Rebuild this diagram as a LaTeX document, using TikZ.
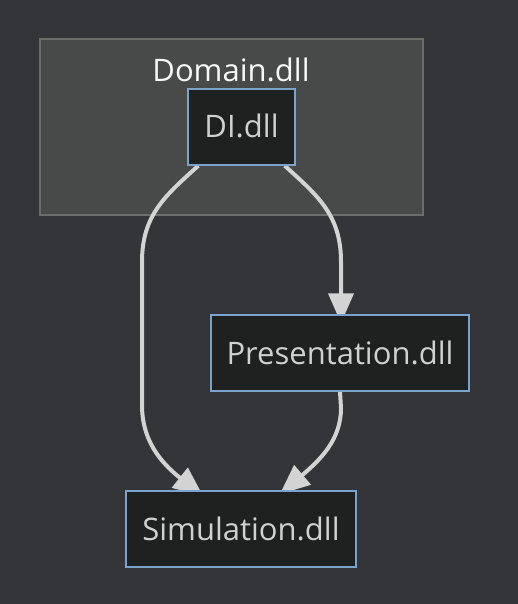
\documentclass[tikz,border=0pt]{standalone}
\usepackage{fontspec}
\setmainfont{Open Sans}
\usetikzlibrary{arrows.meta,calc}
\definecolor{bgc}{RGB}{52,53,56}
\definecolor{clfill}{RGB}{72,74,73}
\definecolor{cldraw}{RGB}{108,110,108}
\definecolor{nfill}{RGB}{31,32,32}
\definecolor{ndraw}{RGB}{122,163,206}
\definecolor{ntext}{RGB}{208,208,208}
\definecolor{ttext}{RGB}{248,248,248}
\definecolor{edgec}{RGB}{211,211,211}
\pgfdeclarelayer{bglayer}
\pgfdeclarelayer{edgelayer}
\pgfsetlayers{bglayer,edgelayer,main}
\tikzset{
  x=1pt,y=1pt,
  labfont/.style={font=\fontsize{31}{34}\selectfont},
  modbox/.style={draw=ndraw,fill=nfill,line width=1.5pt,inner sep=0pt,
    minimum height=76pt,text=ntext,labfont,
    text height=22pt,text depth=0pt},
  dep/.style={draw=edgec,line width=4pt,-{Triangle[length=30pt,width=25pt]}},
}
\begin{document}
\begin{tikzpicture}
\begin{pgfonlayer}{bglayer}
\fill[bgc] (0,0) rectangle (518,-604);
\draw[cldraw,fill=clfill,line width=1.5pt] (40,-39) rectangle (423,-215);
\end{pgfonlayer}
\useasboundingbox (0,0) rectangle (518,-604);
\node[anchor=base,text=ttext,labfont] (title) at (231,-82) {Domain.dll};
\node[modbox,minimum width=107pt] (di) at (241.5,-127) {DI.dll};
\node[modbox,minimum width=258pt] (pres) at (340,-353) {Presentation.dll};
\node[modbox,minimum width=230pt] (sim) at (241,-529) {Simulation.dll};
\begin{pgfonlayer}{edgelayer}
\draw[dep] ($(di.south west)+(11,0)$) .. controls (165,-196) and (142,-215) .. (142,-262)
  -- (142,-405) .. controls (142,-440) and (160,-462) .. ($(sim.north west)+(78,-6)$);
\draw[dep] ($(di.south east)+(-11,0)$) .. controls (318,-196) and (341,-215) .. (341,-262)
  -- ($(pres.north)+(1,-9)$);
\draw[dep] (pres.south) -- (341,-408) .. controls (341,-440) and (320,-460) .. ($(sim.north east)+(-77,-4)$);
\end{pgfonlayer}
\end{tikzpicture}
\end{document}
